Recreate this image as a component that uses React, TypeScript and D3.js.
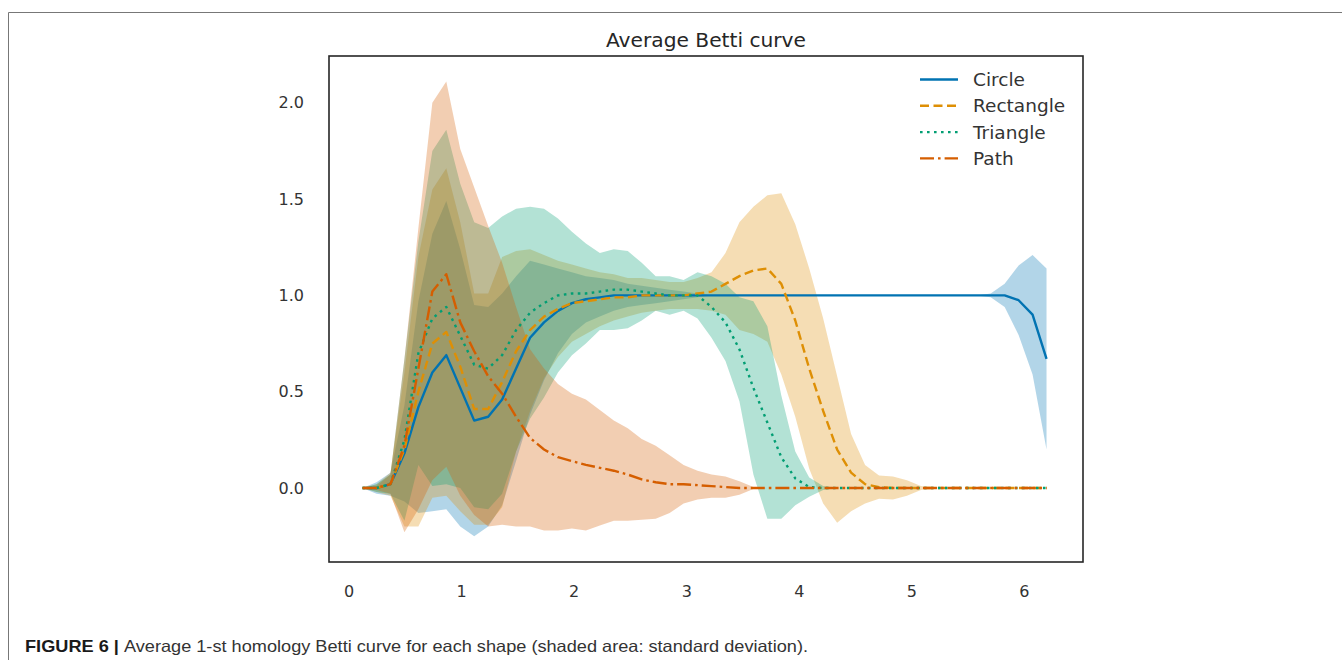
import * as d3 from 'd3';

// sample grid (filtration value)
const xs = [0.12, 0.244, 0.368, 0.492, 0.616, 0.74, 0.864, 0.988, 1.112, 1.236, 1.36, 1.484, 1.608, 1.732, 1.856, 1.98, 2.104, 2.228, 2.352, 2.476, 2.6, 2.724, 2.848, 2.972, 3.096, 3.22, 3.344, 3.468, 3.592, 3.716, 3.84, 3.964, 4.088, 4.212, 4.336, 4.46, 4.584, 4.708, 4.832, 4.956, 5.08, 5.204, 5.328, 5.452, 5.576, 5.7, 5.824, 5.948, 6.072, 6.196];

const circleMean = [0, 0, 0.02, 0.18, 0.42, 0.6, 0.69, 0.52, 0.35, 0.37, 0.46, 0.62, 0.78, 0.86, 0.92, 0.96, 0.98, 0.99, 1, 1, 1, 1, 1, 1, 1, 1, 1, 1, 1, 1, 1, 1, 1, 1, 1, 1, 1, 1, 1, 1, 1, 1, 1, 1, 1, 1, 1, 0.975, 0.9, 0.67];
const circleStd = [0, 0.03, 0.06, 0.25, 0.55, 0.72, 0.8, 0.72, 0.6, 0.57, 0.55, 0.48, 0.4, 0.3, 0.22, 0.16, 0.12, 0.1, 0.08, 0.06, 0.05, 0.04, 0.03, 0.02, 0.01, 0, 0, 0, 0, 0, 0, 0, 0, 0, 0, 0, 0, 0, 0, 0, 0, 0, 0, 0, 0, 0.01, 0.06, 0.18, 0.31, 0.47];

const rectMean = [0, 0, 0.02, 0.2, 0.5, 0.75, 0.81, 0.63, 0.41, 0.41, 0.55, 0.71, 0.82, 0.89, 0.93, 0.96, 0.97, 0.98, 0.99, 0.99, 1, 1, 1, 1, 1.01, 1.02, 1.06, 1.1, 1.13, 1.14, 1.06, 0.87, 0.62, 0.4, 0.2, 0.08, 0.02, 0.005, 0, 0, 0, 0, 0, 0, 0, 0, 0, 0, 0, 0];
const rectStd = [0, 0.02, 0.06, 0.4, 0.7, 0.8, 0.85, 0.75, 0.6, 0.6, 0.65, 0.52, 0.42, 0.32, 0.25, 0.2, 0.17, 0.14, 0.12, 0.1, 0.09, 0.08, 0.07, 0.07, 0.08, 0.1, 0.16, 0.28, 0.33, 0.38, 0.47, 0.5, 0.52, 0.48, 0.38, 0.2, 0.1, 0.06, 0.06, 0.04, 0.01, 0, 0, 0, 0, 0, 0, 0, 0, 0];

const triMean = [0, 0, 0.02, 0.25, 0.7, 0.88, 0.94, 0.79, 0.64, 0.62, 0.69, 0.82, 0.91, 0.96, 1, 1.01, 1.01, 1.02, 1.03, 1.03, 1.02, 1.01, 1, 1, 1, 0.94, 0.86, 0.72, 0.52, 0.34, 0.16, 0.05, 0.005, 0, 0, 0, 0, 0, 0, 0, 0, 0, 0, 0, 0, 0, 0, 0, 0, 0];
const triStd = [0, 0.02, 0.05, 0.42, 0.58, 0.87, 0.92, 0.79, 0.74, 0.73, 0.72, 0.63, 0.55, 0.49, 0.4, 0.32, 0.26, 0.2, 0.21, 0.2, 0.15, 0.09, 0.1, 0.08, 0.12, 0.16, 0.2, 0.27, 0.45, 0.5, 0.32, 0.14, 0.05, 0.01, 0, 0, 0, 0, 0, 0, 0, 0, 0, 0, 0, 0, 0, 0, 0, 0];

const pathMean = [0, 0, 0.02, 0.22, 0.62, 1.02, 1.11, 0.86, 0.71, 0.58, 0.49, 0.37, 0.26, 0.2, 0.16, 0.14, 0.12, 0.105, 0.09, 0.07, 0.045, 0.03, 0.02, 0.02, 0.015, 0.01, 0.005, 0, 0, 0, 0, 0, 0, 0, 0, 0, 0, 0, 0, 0, 0, 0, 0, 0, 0, 0, 0, 0, 0, 0];
const pathStd = [0, 0.01, 0.05, 0.45, 0.73, 0.98, 1, 0.9, 0.85, 0.78, 0.68, 0.57, 0.46, 0.42, 0.38, 0.35, 0.34, 0.3, 0.26, 0.24, 0.21, 0.19, 0.15, 0.1, 0.075, 0.06, 0.055, 0.035, 0.005, 0, 0, 0, 0, 0, 0, 0, 0, 0, 0, 0, 0, 0, 0, 0, 0, 0, 0, 0, 0, 0];

const xTicks = [0, 1, 2, 3, 4, 5, 6];
const yTicks = [0, 0.5, 1, 1.5, 2];

const series = [
  { name: 'Circle', mean: circleMean, std: circleStd, color: '#0173b2', dash: null },
  { name: 'Rectangle', mean: rectMean, std: rectStd, color: '#de8f05', dash: '9,4.5' },
  { name: 'Triangle', mean: triMean, std: triStd, color: '#029e73', dash: '2.6,4.4' },
  { name: 'Path', mean: pathMean, std: pathStd, color: '#d55e00', dash: '14,4,2.6,4' },
];

const W = 1342;
const H = 660;
const box = { left: 329, right: 1083, top: 56, bottom: 562 };
const font = 'DejaVu Sans, sans-serif';

export default function App() {
  const x = d3.scaleLinear().domain([-0.178, 6.52]).range([box.left, box.right]);
  const y = d3.scaleLinear().domain([-0.384, 2.243]).range([box.bottom, box.top]);

  const line = d3.line<number>().x((_d, i) => x(xs[i])).y(d => y(d));

  return (
    <div style={{ position: 'absolute', left: 0, top: 0 }}>
      <svg width={W} height={H} style={{ display: 'block', background: '#fff' }}>
        {/* figure frame */}
        <path d={`M8.5,${H} V12.5 H${W}`} fill="none" stroke="#777" strokeWidth={1} />

        <text x={(box.left + box.right) / 2} y={47} textAnchor="middle" fontFamily={font} fontSize={20.2} fill="#262626">
          Average Betti curve
        </text>

        <g>
          {series.map(s => {
            const area = d3.area<number>()
              .x((_d, i) => x(xs[i]))
              .y0((d, i) => y(d - s.std[i]))
              .y1((d, i) => y(d + s.std[i]));
            return <path key={s.name + '-band'} d={area(s.mean) || ''} fill={s.color} fillOpacity={0.3} stroke="none" />;
          })}
          {series.map(s => (
            <path
              key={s.name}
              d={line(s.mean) || ''}
              fill="none"
              stroke={s.color}
              strokeWidth={2.4}
              strokeDasharray={s.dash || undefined}
              strokeLinejoin="round"
            />
          ))}
        </g>

        <rect x={box.left} y={box.top} width={box.right - box.left} height={box.bottom - box.top}
          fill="none" stroke="#262626" strokeWidth={1.6} />

        {yTicks.map(t => (
          <text key={'y' + t} x={304} y={y(t)} dy="0.35em" textAnchor="end" fontFamily={font} fontSize={16} fill="#333">
            {t.toFixed(1)}
          </text>
        ))}
        {xTicks.map(t => (
          <text key={'x' + t} x={x(t)} y={591} dy="0.35em" textAnchor="middle" fontFamily={font} fontSize={16} fill="#333">
            {t}
          </text>
        ))}

        <g>
          {series.map((s, i) => {
            const ly = 79.5 + i * 26.3;
            return (
              <g key={'lg' + s.name}>
                <line x1={920} x2={958} y1={ly} y2={ly} stroke={s.color} strokeWidth={2.4}
                  strokeDasharray={s.dash || undefined} />
                <text x={973} y={ly} dy="0.35em" fontFamily={font} fontSize={18.5} fill="#333">{s.name}</text>
              </g>
            );
          })}
        </g>

        <text x={25} y={652} fontFamily="Liberation Sans, Arial, sans-serif" fontSize={16.5} fill="#333"
          textLength={783} lengthAdjust="spacingAndGlyphs">
          <tspan fontWeight="bold" fill="#1a1a1a">FIGURE 6 | </tspan>
          <tspan>Average 1-st homology Betti curve for each shape (shaded area: standard deviation).</tspan>
        </text>
      </svg>
    </div>
  );
}
